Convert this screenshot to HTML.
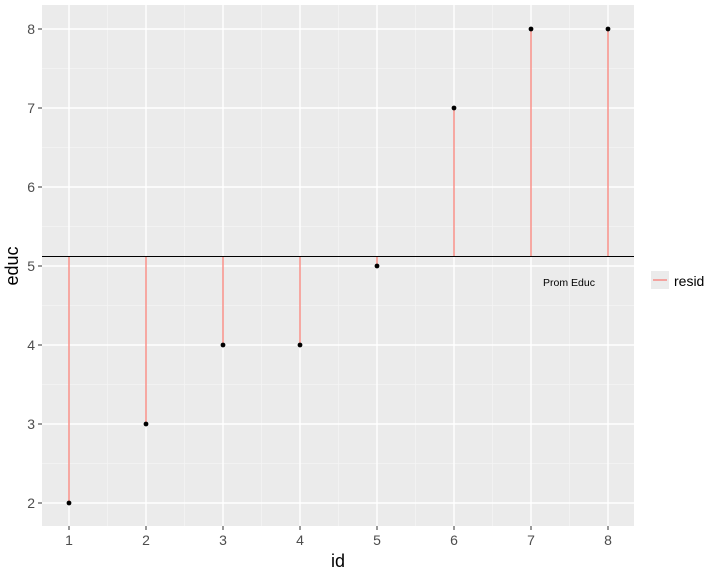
<!DOCTYPE html>
<html><head><style>body{margin:0;background:#fff}svg{display:block}</style></head><body>
<svg width="720" height="576" xmlns="http://www.w3.org/2000/svg" font-family="Liberation Sans, sans-serif">
<rect x="42" y="5" width="592" height="521" fill="#ebebeb"/>
<g stroke="#f5f5f5" stroke-width="0.7">
<line x1="42" x2="634" y1="463.5" y2="463.5"/><line x1="42" x2="634" y1="384.5" y2="384.5"/><line x1="42" x2="634" y1="305.5" y2="305.5"/><line x1="42" x2="634" y1="226.5" y2="226.5"/><line x1="42" x2="634" y1="147.5" y2="147.5"/><line x1="42" x2="634" y1="68.5" y2="68.5"/>
<line x1="107.5" x2="107.5" y1="5" y2="526"/><line x1="184.5" x2="184.5" y1="5" y2="526"/><line x1="261.5" x2="261.5" y1="5" y2="526"/><line x1="338.5" x2="338.5" y1="5" y2="526"/><line x1="415.5" x2="415.5" y1="5" y2="526"/><line x1="492.5" x2="492.5" y1="5" y2="526"/><line x1="569.5" x2="569.5" y1="5" y2="526"/>
</g>
<g stroke="#fff" stroke-width="1.4">
<line x1="42" x2="634" y1="503" y2="503"/><line x1="42" x2="634" y1="424" y2="424"/><line x1="42" x2="634" y1="345" y2="345"/><line x1="42" x2="634" y1="266" y2="266"/><line x1="42" x2="634" y1="187" y2="187"/><line x1="42" x2="634" y1="108" y2="108"/><line x1="42" x2="634" y1="29" y2="29"/>
<line x1="69" x2="69" y1="5" y2="526"/><line x1="146" x2="146" y1="5" y2="526"/><line x1="223" x2="223" y1="5" y2="526"/><line x1="300" x2="300" y1="5" y2="526"/><line x1="377" x2="377" y1="5" y2="526"/><line x1="454" x2="454" y1="5" y2="526"/><line x1="531" x2="531" y1="5" y2="526"/><line x1="608" x2="608" y1="5" y2="526"/>
</g>
<g stroke="#f8766d" stroke-width="1.2">
<line x1="69" x2="69" y1="256" y2="503"/><line x1="146" x2="146" y1="256" y2="424"/><line x1="223" x2="223" y1="256" y2="345"/><line x1="300" x2="300" y1="256" y2="345"/><line x1="377" x2="377" y1="256" y2="266"/><line x1="454" x2="454" y1="256" y2="108"/><line x1="531" x2="531" y1="256" y2="29"/><line x1="608" x2="608" y1="256" y2="29"/>
</g>
<line x1="42" x2="634" y1="256.5" y2="256.5" stroke="#000" stroke-width="1.1"/>
<g fill="#000">
<circle cx="69" cy="503" r="2.4"/><circle cx="146" cy="424" r="2.4"/><circle cx="223" cy="345" r="2.4"/><circle cx="300" cy="345" r="2.4"/><circle cx="377" cy="266" r="2.4"/><circle cx="454" cy="108" r="2.4"/><circle cx="531" cy="29" r="2.4"/><circle cx="608" cy="29" r="2.4"/>
</g>
<text x="569" y="286" font-size="10.5" text-anchor="middle">Prom Educ</text>
<g stroke="#333" stroke-width="1">
<line x1="38" x2="42" y1="503" y2="503"/><line x1="38" x2="42" y1="424" y2="424"/><line x1="38" x2="42" y1="345" y2="345"/><line x1="38" x2="42" y1="266" y2="266"/><line x1="38" x2="42" y1="187" y2="187"/><line x1="38" x2="42" y1="108" y2="108"/><line x1="38" x2="42" y1="29" y2="29"/>
<line x1="69" x2="69" y1="526" y2="530"/><line x1="146" x2="146" y1="526" y2="530"/><line x1="223" x2="223" y1="526" y2="530"/><line x1="300" x2="300" y1="526" y2="530"/><line x1="377" x2="377" y1="526" y2="530"/><line x1="454" x2="454" y1="526" y2="530"/><line x1="531" x2="531" y1="526" y2="530"/><line x1="608" x2="608" y1="526" y2="530"/>
</g>
<g font-size="14" fill="#4d4d4d" text-anchor="end">
<text x="35" y="508">2</text><text x="35" y="429">3</text><text x="35" y="350">4</text><text x="35" y="271">5</text><text x="35" y="192">6</text><text x="35" y="113">7</text><text x="35" y="34">8</text>
</g>
<g font-size="14" fill="#4d4d4d" text-anchor="middle">
<text x="69" y="545">1</text><text x="146" y="545">2</text><text x="223" y="545">3</text><text x="300" y="545">4</text><text x="377" y="545">5</text><text x="454" y="545">6</text><text x="531" y="545">7</text><text x="608" y="545">8</text>
</g>
<text x="338" y="567" font-size="18" text-anchor="middle">id</text>
<text transform="translate(18,266) rotate(-90)" font-size="18" text-anchor="middle">educ</text>
<rect x="651" y="271" width="18" height="18" fill="#ebebeb"/>
<line x1="653" x2="667" y1="280" y2="280" stroke="#f8766d" stroke-width="1.2"/>
<text x="674" y="286" font-size="14">resid</text>
</svg>
</body></html>
